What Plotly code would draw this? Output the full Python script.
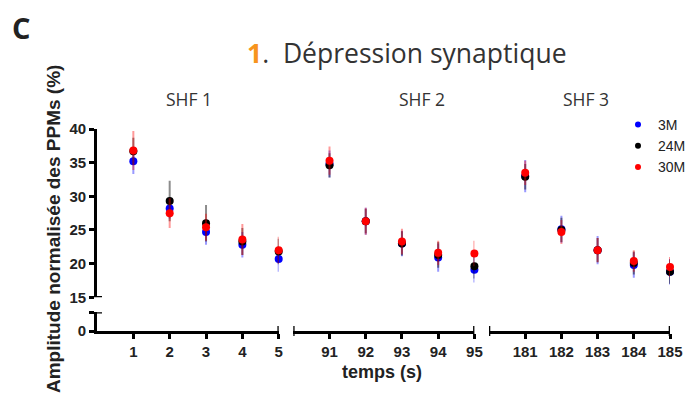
import plotly.graph_objects as go

# ---- data ----
times_shf1 = [1, 2, 3, 4, 5]
times_shf2 = [91, 92, 93, 94, 95]
times_shf3 = [181, 182, 183, 184, 185]

m3_mean = [35.2, 28.2, 24.7, 22.8, 20.7, 34.8, 26.3, 23.0, 20.9, 19.1, 33.0, 25.1, 22.0, 19.8, 18.8]
m3_err = [1.9, 1.5, 1.9, 1.9, 1.9, 2.0, 2.0, 1.9, 2.1, 1.9, 2.4, 2.0, 2.1, 1.9, 1.9]
m24_mean = [36.7, 29.3, 26.0, 23.3, 21.8, 34.6, 26.3, 23.0, 21.3, 19.6, 32.9, 25.0, 22.0, 20.1, 18.8]
m24_err = [2.0, 3.0, 2.7, 2.0, 1.9, 1.8, 1.8, 1.8, 1.9, 1.8, 1.9, 1.8, 1.8, 1.7, 1.8]
m30_mean = [36.8, 27.5, 25.4, 23.6, 22.0, 35.3, 26.3, 23.3, 21.6, 21.5, 33.5, 24.7, 22.0, 20.4, 19.5]
m30_err = [2.9, 2.2, 2.0, 2.3, 2.0, 2.1, 2.0, 1.9, 1.8, 1.9, 1.8, 1.8, 1.8, 1.6, 1.5]

series_names = ["3M", "24M", "30M"]
series_means = [m3_mean, m24_mean, m30_mean]
series_errs = [m3_err, m24_err, m30_err]
marker_colors = ["#0000ff", "#000000", "#ff0000"]
err_colors = ["rgba(0,0,255,0.4)", "rgba(0,0,0,0.45)", "rgba(255,0,0,0.4)"]

y_ticks_upper = [15, 20, 25, 30, 35, 40]
segment_names = ["SHF 1", "SHF 2", "SHF 3"]
segments = [times_shf1, times_shf2, times_shf3]
seg_ranges = [[0, 5], [90, 95], [180, 185]]

fig = go.Figure()

xaxes_ids = ["x", "x2", "x3"]
for s_idx, (name, means, errs) in enumerate(zip(series_names, series_means, series_errs)):
    for k, times in enumerate(segments):
        fig.add_trace(go.Scatter(
            x=times,
            y=means[5 * k:5 * k + 5],
            mode="markers",
            marker=dict(color=marker_colors[s_idx], size=8),
            error_y=dict(type="data", array=errs[5 * k:5 * k + 5], color=err_colors[s_idx],
                         thickness=2, width=0),
            name=name,
            legendgroup=name,
            showlegend=False,
            xaxis=xaxes_ids[k],
            yaxis="y",
            cliponaxis=False,
        ))
    # legend entry with smaller marker
    fig.add_trace(go.Scatter(x=[None], y=[None], mode="markers",
                             marker=dict(color=marker_colors[s_idx], size=6),
                             name=name, legendgroup=name, showlegend=True,
                             xaxis="x", yaxis="y"))

W, H = 689, 398
ml, mr, mt, mb = 97, 19, 129, 67
pw = W - ml - mr
ph = H - mt - mb

def px_x(p):
    return (p - ml) / pw

def px_y(p):
    return (H - mb - p) / ph

axis_common = dict(showline=True, linewidth=2.6, linecolor="black", ticks="outside",
                   ticklen=5, tickwidth=2.6, tickcolor="black", showgrid=False,
                   zeroline=False,
                   tickfont=dict(family="Liberation Sans", size=15, color="#222", weight="bold"))

x_domains = [[0, px_x(278.7)], [px_x(293.3), px_x(474.4)], [px_x(489), 1.0]]
for k in range(3):
    key = "xaxis" if k == 0 else f"xaxis{k+1}"
    tv = segments[k]
    fig.update_layout(**{key: dict(axis_common, domain=x_domains[k], range=seg_ranges[k],
                                   tickvals=tv, ticktext=[str(t) for t in tv],
                                   anchor="y2")})

fig.update_layout(
    yaxis=dict(axis_common, domain=[px_y(297.3), 1.0], range=[15, 40], tickvals=y_ticks_upper,
               anchor="x"),
    yaxis2=dict(axis_common, domain=[0, px_y(312.3)], range=[0, 2.8], tickvals=[0, 2.8],
                ticktext=["0", ""], anchor="x"),
)

# axis end caps
shapes = []
for k, xr in [(0, 5), (1, 90), (1, 95), (2, 180), (2, 185)]:
    shapes.append(dict(type="line", xref=xaxes_ids[k], yref="paper", x0=xr, x1=xr,
                       ysizemode="pixel", yanchor=0, y0=-5, y1=5,
                       line=dict(color="black", width=2.6)))
for yv, yref in [(15, "y"), (2.8, "y2")]:
    shapes.append(dict(type="line", xref="paper", yref=yref, y0=yv, y1=yv,
                       xsizemode="pixel", xanchor=0, x0=-5, x1=5,
                       line=dict(color="black", width=2.6)))

annotations = [
    dict(text="C", x=px_x(10), y=px_y(27), xref="paper", yref="paper", xanchor="left",
         yanchor="middle", showarrow=False,
         font=dict(family="Open Sans", size=29, color="#222", weight="bold")),
    dict(text="<span style='color:#F7941D'><b>1</b></span>.  Dépression synaptique",
         x=px_x(407), y=px_y(53), xref="paper", yref="paper", xanchor="center",
         yanchor="middle", showarrow=False,
         font=dict(family="Open Sans", size=26.5, color="#333")),
    dict(text="Amplitude normalisée des PPMs (%)", x=px_x(53), y=px_y(229), xref="paper",
         yref="paper", xanchor="center", yanchor="middle", textangle=-90, showarrow=False,
         font=dict(family="Liberation Sans", size=19, color="#222", weight="bold")),
    dict(text="temps (s)", x=px_x(382), y=px_y(372), xref="paper", yref="paper",
         xanchor="center", yanchor="middle", showarrow=False,
         font=dict(family="Liberation Sans", size=18, color="#222", weight="bold")),
]
for nm, cx in zip(segment_names, [189, 421.7, 585.7]):
    annotations.append(dict(text=nm, x=px_x(cx), y=px_y(99), xref="paper", yref="paper",
                            xanchor="center", yanchor="middle", showarrow=False,
                            font=dict(family="Open Sans", size=17.5, color="#333")))

fig.update_layout(
    width=W, height=H,
    margin=dict(l=ml, r=mr, t=mt, b=mb, autoexpand=False),
    paper_bgcolor="white", plot_bgcolor="white",
    shapes=shapes, annotations=annotations,
    legend=dict(x=px_x(618), y=px_y(109), xanchor="left", yanchor="top",
                font=dict(family="Liberation Sans", size=14, color="#222"),
                bgcolor="rgba(0,0,0,0)", itemwidth=30, tracegroupgap=0),
)

fig.write_html("out.html", config={"displayModeBar": False},
               post_script="document.body.style.margin='0px';")
